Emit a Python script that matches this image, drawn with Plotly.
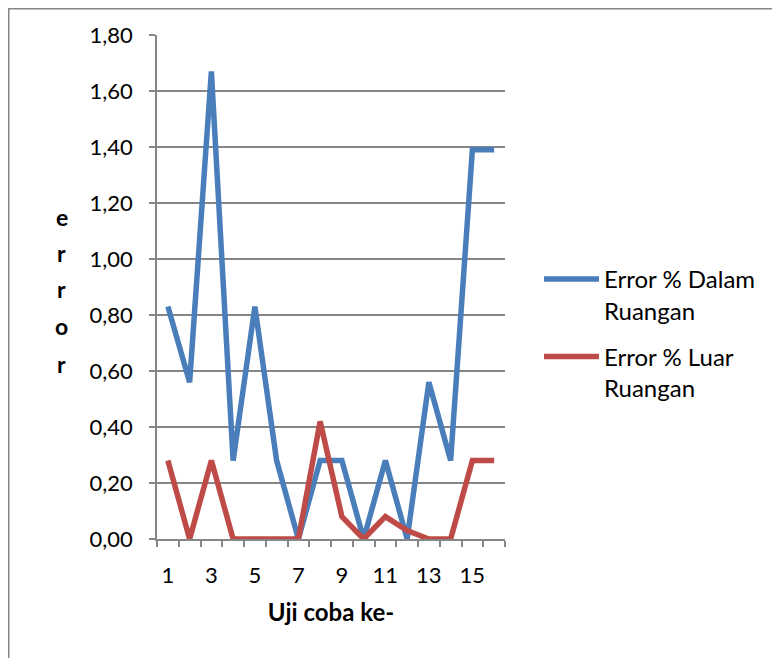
import plotly.graph_objects as go

trials = list(range(1, 17))
dalam = [0.83, 0.56, 1.67, 0.28, 0.83, 0.28, 0.00, 0.28, 0.28, 0.00, 0.28, 0.00, 0.56, 0.28, 1.39, 1.39]
luar = [0.28, 0.00, 0.28, 0.00, 0.00, 0.00, 0.00, 0.42, 0.08, 0.00, 0.08, 0.03, 0.00, 0.00, 0.28, 0.28]
series_names = ["Error % Dalam<br>Ruangan", "Error % Luar<br>Ruangan"]
x_tick_vals = [1, 3, 5, 7, 9, 11, 13, 15]
x_tick_text = ["1", "3", "5", "7", "9", "11", "13", "15"]
y_title_letters = ["e", "r", "r", "o", "r"]
x_title = "Uji coba ke-"

FONT = "Lato"
GRAY = "#868686"
W, H = 780, 658
OFF = 8  # page body margin
# plot area in screen pixels (reference)
PX0, PX1, PY0, PY1 = 157, 505, 35, 539
L = PX0 - OFF
T = PY0 - OFF
pw, ph = PX1 - PX0, PY1 - PY0
R = W - L - pw
B = H - T - ph

def px_x(px):
    return (px - PX0) / pw

def px_y(py):
    return (PY1 - py) / ph

fig = go.Figure()
fig.add_trace(go.Scatter(x=trials, y=dalam, mode="lines", name=series_names[0],
                         line=dict(color="#4A7EBB", width=5.5), legendgroup="a"))
fig.add_trace(go.Scatter(x=trials, y=luar, mode="lines", name=series_names[1],
                         line=dict(color="#BE4B48", width=5.5), legendgroup="b"))

annotations = []
letter_y = [217, 253, 289, 326, 364]
for ch, py in zip(y_title_letters, letter_y):
    annotations.append(dict(text="<b>" + ch + "</b>", x=px_x(62), y=px_y(py), xref="paper", yref="paper",
                            showarrow=False, font=dict(family=FONT, size=23, color="black"),
                            xanchor="center", yanchor="middle"))

fig.update_layout(
    width=W, height=H,
    margin=dict(l=L, r=R, t=T, b=B),
    paper_bgcolor="white", plot_bgcolor="white",
    separators=",.",
    font=dict(family=FONT, size=22, color="black"),
    showlegend=True,
    legend=dict(x=px_x(539), y=px_y(257), xanchor="left", yanchor="top",
                font=dict(family=FONT, size=24, color="black"),
                valign="top", itemwidth=55, tracegroupgap=12,
                bgcolor="rgba(0,0,0,0)"),
    annotations=annotations,
    shapes=[dict(type="rect", xref="paper", yref="paper", x0=px_x(OFF + 0.75), x1=px_x(820),
                 y0=px_y(720), y1=px_y(OFF + 0.75), line=dict(color=GRAY, width=1.5), layer="below")],
    xaxis=dict(range=[0.5, 16.5], tickvals=x_tick_vals, ticktext=x_tick_text,
               showgrid=False, zeroline=False, showline=True, linecolor=GRAY, linewidth=1.5,
               ticks="", ticklabelstandoff=16,
               tickfont=dict(family=FONT, size=22),
               minor=dict(ticks="outside", ticklen=6, tickcolor=GRAY, tickwidth=1.5,
                          tick0=0.5, dtick=1, showgrid=False),
               title=dict(text="<b>" + x_title + "</b>", font=dict(family=FONT, size=24), standoff=17)),
    yaxis=dict(range=[0, 1.8], dtick=0.2, tickformat=".2f", showgrid=True, gridcolor=GRAY, gridwidth=1.5,
               zeroline=False, showline=True, linecolor=GRAY, linewidth=1.5,
               tickfont=dict(family=FONT, size=22),
               ticks="outside", ticklen=6, tickcolor=GRAY, tickwidth=1.5, ticklabelstandoff=12),
)

fig.write_html("out.html")
